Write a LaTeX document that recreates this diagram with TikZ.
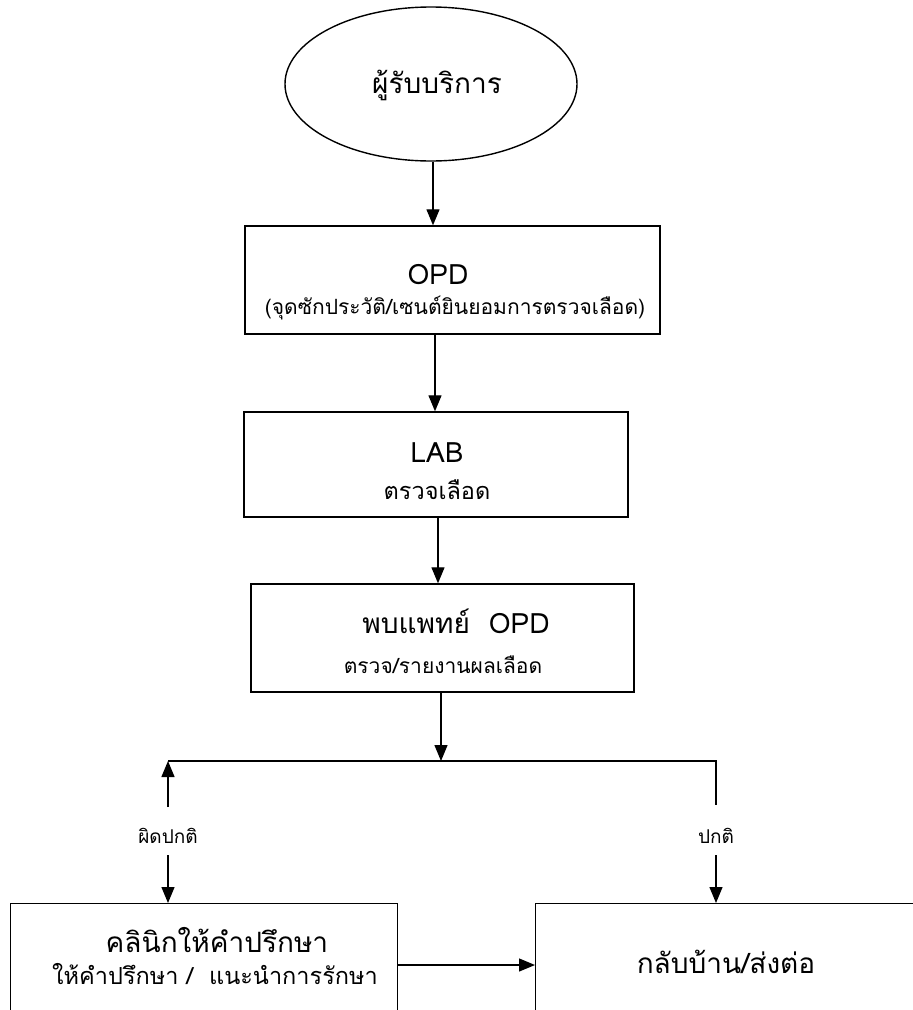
\documentclass[tikz,border=0pt]{standalone}
\usepackage{fontspec}
\setmainfont[Script=Thai]{Loma}
\usetikzlibrary{arrows.meta,shapes.geometric}

\begin{document}
\begin{tikzpicture}[x=1pt,y=-1pt,
  box/.style={draw, line width=1.4pt, rectangle, inner sep=0pt},
  arr/.style={line width=1.3pt, -{Triangle[length=16pt,width=13pt]}},
  plain/.style={line width=1.3pt},
  txt/.style={inner sep=0pt, anchor=base},
  big/.style={txt, font=\fontsize{28}{30}\selectfont},
  mid/.style={txt, font=\fontsize{21}{24}\selectfont},
  midl/.style={txt, font=\fontsize{23.5}{26}\selectfont},
  small/.style={txt, font=\fontsize{19}{22}\selectfont}]
\useasboundingbox (0,0) rectangle (913,1010);
\clip (0,0) rectangle (913,1010);

% start: the client
\node[draw, ellipse, line width=1.4pt, minimum width=292pt, minimum height=154pt, inner sep=0pt] (client) at (431,84) {};
\node[big] (tclient) at (437,93) {ผู้รับบริการ};

% process boxes
\node[box, minimum width=415pt, minimum height=108pt] (opd) at (452.5,280) {};
\node[big] (topd) at (438,284) {OPD};
\node[mid] (sopd) at (455,314) {(จุดซักประวัติ/เซนต์ยินยอมการตรวจเลือด)};

\node[box, minimum width=384pt, minimum height=105pt] (lab) at (436,464.5) {};
\node[big] (tlab) at (437,462) {LAB};
\node[midl] (slab) at (437,499) {ตรวจเลือด};

\node[box, minimum width=383pt, minimum height=108pt] (doc) at (442.5,638) {};
\node[big] (tdoc) at (456,633) {พบแพทย์~~OPD};
\node[mid] (sdoc) at (443,673) {ตรวจ/รายงานผลเลือด};

\node[box, minimum width=387pt, minimum height=127pt, anchor=north west] (clinic) at (10,903) {};
\node[big] (tclinic) at (217,952) {คลินิกให้คำปรึกษา};
\node[midl] (sclinic) at (215,984) {ให้คำปรึกษา /~~แนะนำการรักษา};

\node[box, minimum width=405pt, minimum height=127pt, anchor=north west] (home) at (535,903) {};
\node[big] (thome) at (726,973) {กลับบ้าน/ส่งต่อ};

% branch labels
\node[small] (abn) at (168,843) {ผิดปกติ};
\node[small] (nor) at (716,843) {ปกติ};

% branch points
\coordinate (bl) at (168,761);
\coordinate (bm) at (441,761);
\coordinate (br) at (716,761);
\coordinate (abnup) at (168,807);
\coordinate (abndn) at (168,855);
\coordinate (norup) at (716,805);
\coordinate (nordn) at (716,855);

% main flow
\draw[arr] (client.south -| 433,0) -- (433,0 |- opd.north);
\draw[arr] (435,0 |- opd.south) -- (435,0 |- lab.north);
\draw[arr] (438,0 |- lab.south) -- (438,0 |- doc.north);
\draw[arr] (441,0 |- doc.south) -- (bm);

% split into the two outcomes
\draw[plain] (bl) -- (br) -- (norup);
\draw[arr] (abnup) -- (bl);
\draw[arr] (abndn) -- (abndn |- clinic.north);
\draw[arr] (nordn) -- (nordn |- home.north);

% counselling leads on to discharge / referral
\draw[arr] (clinic.east |- 0,965) -- (home.west |- 0,965);
\end{tikzpicture}
\end{document}
